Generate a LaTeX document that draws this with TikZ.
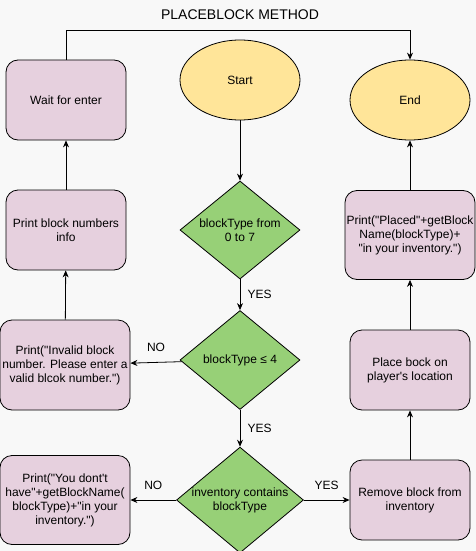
\documentclass[tikz,border=0pt]{standalone}
\usepackage{fontspec}
\setmainfont{Liberation Sans}[Ligatures=TeXOff]
\usetikzlibrary{shapes.geometric,arrows.meta}
\definecolor{bg}{HTML}{F8F8F8}
\definecolor{pfill}{HTML}{E6D0DE}
\definecolor{yfill}{HTML}{FFE599}
\definecolor{gfill}{HTML}{97D077}
\begin{document}
\begin{tikzpicture}[x=1pt,y=-1pt,
  font=\fontsize{12}{14}\selectfont,
  proc/.style={draw=black,fill=pfill,rounded corners=12pt,line width=0.8pt,align=center,inner sep=1pt},
  term/.style={draw=black,fill=yfill,ellipse,minimum width=120pt,minimum height=80pt,line width=0.8pt,inner sep=0pt},
  dec/.style={draw=black,fill=gfill,diamond,minimum width=120pt,minimum height=100pt,line width=0.8pt,align=center,inner sep=0pt,aspect=1.2},
  conn/.style={draw=black,line width=0.8pt,-{Stealth[length=7pt,width=6pt]}},
  lbl/.style={font=\fontsize{12}{14}\selectfont}]
\fill[bg] (0,0) rectangle (476,551);
\useasboundingbox (0,0) rectangle (476,551);
\node[font=\fontsize{14}{16}\selectfont] (title) at (240,15) {PLACEBLOCK METHOD};
\node[proc,minimum width=120pt,minimum height=80pt] (wait) at (66,100) {Wait for enter};
\node[term] (start) at (240,80) {Start};
\node[term] (end) at (410,100) {End};
\node[proc,minimum width=120pt,minimum height=80pt] (info) at (66,230) {Print block numbers\\info};
\node[dec,minimum width=120pt,minimum height=98pt] (d1) at (240,230) {blockType from\\0 to 7};
\node[proc,minimum width=130pt,minimum height=89pt] (placed) at (410,235) {Print("Placed"+getBlock\\Name(blockType)+\\"in your inventory.")};
\node[dec,minimum width=120pt,minimum height=99pt] (d2) at (240,360) {blockType ≤ 4};
\node[proc,minimum width=130pt,minimum height=90pt] (invalid) at (65,365) {Print("Invalid block\\number. Please enter a\\valid blcok number.")};
\node[proc,minimum width=120pt,minimum height=80pt] (place) at (410,370) {Place bock on\\player's location};
\node[dec,minimum width=120pt,minimum height=99pt] (d3) at (240,500) {inventory contains\\blockType};
\node[proc,minimum width=130pt,minimum height=89pt] (dont) at (65,500) {Print("You dont't\\have"+getBlockName(\\blockType)+"in your\\inventory.")};
\node[proc,minimum width=120pt,minimum height=80pt] (remove) at (410,500) {Remove block from\\inventory};
\coordinate (tl) at (66,30);
\coordinate (tr) at (410,30);
\draw[conn] (start) -- (d1);
\draw[conn] (d1) -- node[right,xshift=4pt,lbl] {YES} (d2);
\draw[conn] (d2) -- node[above,yshift=7pt,lbl] {NO} (invalid);
\draw[conn] (invalid) -- (info);
\draw[conn] (info) -- (wait);
\draw[conn] (wait.north) -- (tl) -- (tr) -- (end.north);
\draw[conn] (d2) -- node[right,xshift=4pt,lbl] {YES} (d3);
\draw[conn] (d3) -- node[above,yshift=7pt,lbl] {NO} (dont);
\draw[conn] (d3) -- node[above,yshift=7pt,lbl] {YES} (remove);
\draw[conn] (remove) -- (place);
\draw[conn] (place) -- (placed);
\draw[conn] (placed) -- (end);
\end{tikzpicture}
\end{document}
